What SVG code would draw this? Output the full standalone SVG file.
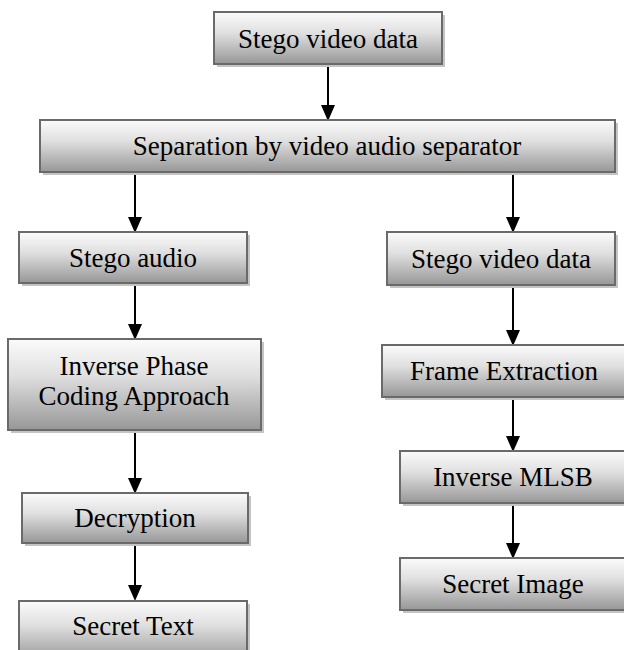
<svg xmlns="http://www.w3.org/2000/svg" width="624" height="650" viewBox="0 0 624 650">
  <defs>
    <linearGradient id="g" x1="0" y1="0" x2="0" y2="1">
      <stop offset="0" stop-color="#fbfbfb"/>
      <stop offset="0.4" stop-color="#e0e0e0"/>
      <stop offset="1" stop-color="#979797"/>
    </linearGradient>
  </defs>
  <style>
    .sh { fill: #c4c4c4; }
    .bx { fill: url(#g); stroke: #6a6a6a; stroke-width: 2; }
    .t { font-family: "Liberation Serif", "Times New Roman", serif; font-size: 27px; fill: #000; text-anchor: middle; }
    .c { stroke: #000; stroke-width: 2; fill: none; }
  </style>
  <rect width="624" height="650" fill="#fff"/>

  <g id="connectors">
    <line class="c" x1="328" y1="64" x2="328" y2="105"/>
    <path d="M321,105 L335,105 L328,121 Z"/>
    <line class="c" x1="135" y1="172" x2="135" y2="217"/>
    <path d="M128,217 L142,217 L135,233 Z"/>
    <line class="c" x1="513" y1="172" x2="513" y2="217"/>
    <path d="M506,217 L520,217 L513,233 Z"/>
    <line class="c" x1="135" y1="283" x2="135" y2="324"/>
    <path d="M128,324 L142,324 L135,340 Z"/>
    <line class="c" x1="513" y1="285" x2="513" y2="330"/>
    <path d="M506,330 L520,330 L513,346 Z"/>
    <line class="c" x1="135" y1="430" x2="135" y2="478"/>
    <path d="M128,478 L142,478 L135,494 Z"/>
    <line class="c" x1="513" y1="397" x2="513" y2="436"/>
    <path d="M506,436 L520,436 L513,452 Z"/>
    <line class="c" x1="135" y1="543" x2="135" y2="585"/>
    <path d="M128,585 L142,585 L135,601 Z"/>
    <line class="c" x1="513" y1="503" x2="513" y2="543"/>
    <path d="M506,543 L520,543 L513,559 Z"/>
  </g>

  <g id="n1">
    <rect class="sh" x="217" y="15" width="228" height="52"/>
    <rect class="bx" x="214" y="12" width="228" height="52"/>
    <text class="t" x="328" y="48">Stego video data</text>
  </g>
  <g id="n2">
    <rect class="sh" x="43" y="123" width="575" height="52"/>
    <rect class="bx" x="40" y="120" width="575" height="52"/>
    <text class="t" x="327" y="155">Separation by video audio separator</text>
  </g>
  <g id="n3">
    <rect class="sh" x="22" y="235" width="228" height="51"/>
    <rect class="bx" x="19" y="232" width="228" height="51"/>
    <text class="t" x="133" y="267">Stego audio</text>
  </g>
  <g id="n4">
    <rect class="sh" x="390" y="235" width="228" height="53"/>
    <rect class="bx" x="387" y="232" width="228" height="53"/>
    <text class="t" x="501" y="268">Stego video data</text>
  </g>
  <g id="n5">
    <rect class="sh" x="11" y="342" width="253" height="91"/>
    <rect class="bx" x="8" y="339" width="253" height="91"/>
    <text class="t" x="134" y="375">Inverse Phase</text>
    <text class="t" x="134" y="405">Coding Approach</text>
  </g>
  <g id="n6">
    <rect class="sh" x="385" y="348" width="245" height="52"/>
    <rect class="bx" x="382" y="345" width="245" height="52"/>
    <text class="t" x="504" y="380">Frame Extraction</text>
  </g>
  <g id="n7">
    <rect class="sh" x="403" y="454" width="227" height="52"/>
    <rect class="bx" x="400" y="451" width="227" height="52"/>
    <text class="t" x="513" y="486">Inverse MLSB</text>
  </g>
  <g id="n8">
    <rect class="sh" x="25" y="496" width="226" height="50"/>
    <rect class="bx" x="22" y="493" width="226" height="50"/>
    <text class="t" x="135" y="527">Decryption</text>
  </g>
  <g id="n9">
    <rect class="sh" x="403" y="561" width="227" height="52"/>
    <rect class="bx" x="400" y="558" width="227" height="52"/>
    <text class="t" x="513" y="593">Secret Image</text>
  </g>
  <g id="n10">
    <rect class="sh" x="22" y="604" width="228" height="60"/>
    <rect class="bx" x="19" y="601" width="228" height="60"/>
    <text class="t" x="133" y="635">Secret Text</text>
  </g>
</svg>
